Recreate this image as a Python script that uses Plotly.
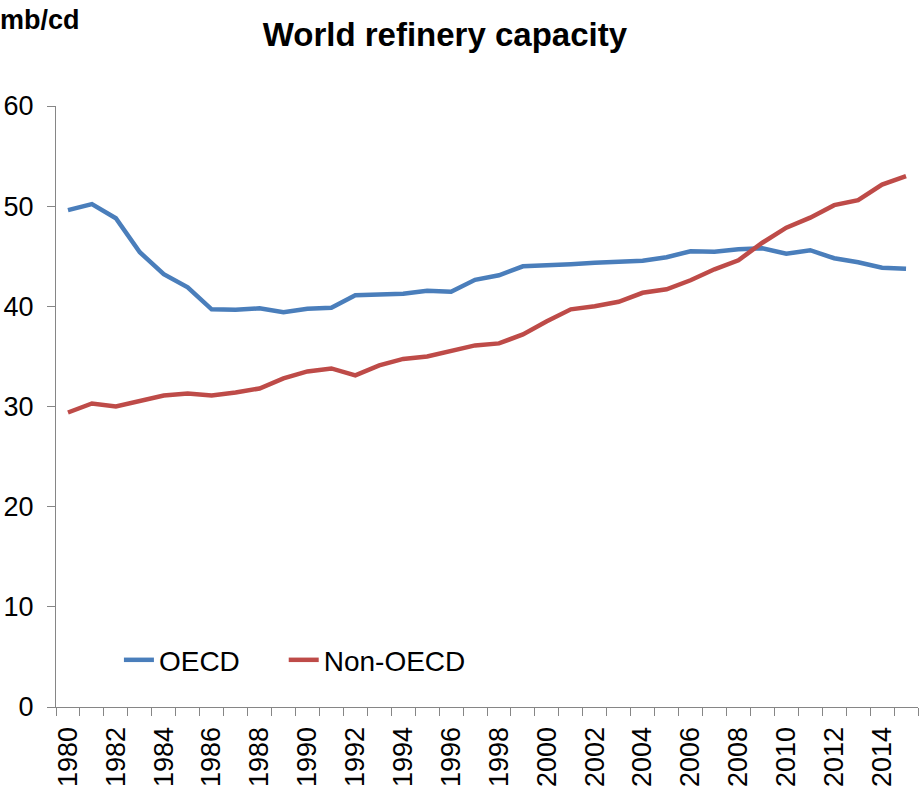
import plotly.graph_objects as go

years = list(range(1980, 2016))
oecd = [49.6, 50.2, 48.8, 45.4, 43.2, 41.9, 39.7, 39.65, 39.8, 39.4, 39.75,
        39.85, 41.1, 41.2, 41.25, 41.55, 41.45, 42.65, 43.1, 44.0, 44.05,
        44.2, 44.35, 44.5, 44.55, 44.9, 45.5, 45.45, 45.7, 45.8, 45.25,
        45.6, 44.8, 44.4, 43.85, 43.75]
non_oecd = [29.4, 30.3, 30.0, 30.6, 31.1, 31.3, 31.1, 31.4, 31.8, 32.8, 33.5,
            33.8, 33.1, 34.1, 34.75, 35.0, 35.55, 36.1, 36.3, 37.2, 38.5,
            39.7, 40.0, 40.45, 41.35, 41.7, 42.6, 43.7, 44.6, 46.35, 47.85,
            48.85, 50.1, 50.6, 52.15, 53.0]
tick_years = list(range(1980, 2015, 2))
tick_labels = [str(y) for y in tick_years]

FONT = "Liberation Sans, Arial, sans-serif"
AXIS = "#868686"
PAD = "\u00a0" * 5

fig = go.Figure()
fig.add_trace(go.Scatter(x=years, y=oecd, mode="lines", name="OECD" + PAD,
                         line=dict(color="#4A7EBB", width=4.5)))
fig.add_trace(go.Scatter(x=years, y=non_oecd, mode="lines", name="Non-OECD",
                         line=dict(color="#BE4B48", width=4.5)))

fig.update_layout(
    width=923, height=790,
    margin=dict(l=56, r=5, t=106, b=83),
    paper_bgcolor="white", plot_bgcolor="white",
    font=dict(family=FONT, size=27, color="black"),
    title=dict(text="<b>World refinery capacity</b>", x=0.482, xref="container",
               xanchor="center", y=0.956, yref="container", yanchor="middle",
               font=dict(family=FONT, size=33, color="black")),
    showlegend=True,
    legend=dict(orientation="h", x=0.073, y=0.078, xanchor="left", yanchor="middle",
                font=dict(family=FONT, size=28, color="black"),
                bgcolor="rgba(0,0,0,0)", itemwidth=30, tracegroupgap=0),
    xaxis=dict(range=[1979.5, 2015.5], tickmode="array", tickvals=tick_years,
               ticktext=tick_labels, tickangle=-90, ticks="", showgrid=False,
               zeroline=False, showline=True, linecolor=AXIS, linewidth=1.3,
               tickfont=dict(family=FONT, size=27, color="black"),
               ticklabelstandoff=8,
               minor=dict(ticks="outside", tick0=1979.5, dtick=1, ticklen=8,
                          tickcolor=AXIS, tickwidth=1.3, showgrid=False),
               automargin=False, fixedrange=True),
    yaxis=dict(range=[0, 60], tickmode="array", tickvals=[0, 10, 20, 30, 40, 50, 60],
               ticks="outside", ticklen=8, tickcolor=AXIS, tickwidth=1.3,
               showgrid=False, zeroline=False, showline=True, linecolor=AXIS,
               linewidth=1.3, tickfont=dict(family=FONT, size=27, color="black"),
               ticklabelstandoff=8,
               automargin=False, fixedrange=True),
)

fig.add_annotation(text="<b>mb/cd</b>", xref="paper", yref="paper",
                   x=-58/862, y=1 + (106 - 20) / 601, xanchor="left", yanchor="middle",
                   showarrow=False, font=dict(family=FONT, size=27, color="black"))

fig.write_html("out.html", config={"displayModeBar": False},
               post_script="document.body.style.margin='0';")
